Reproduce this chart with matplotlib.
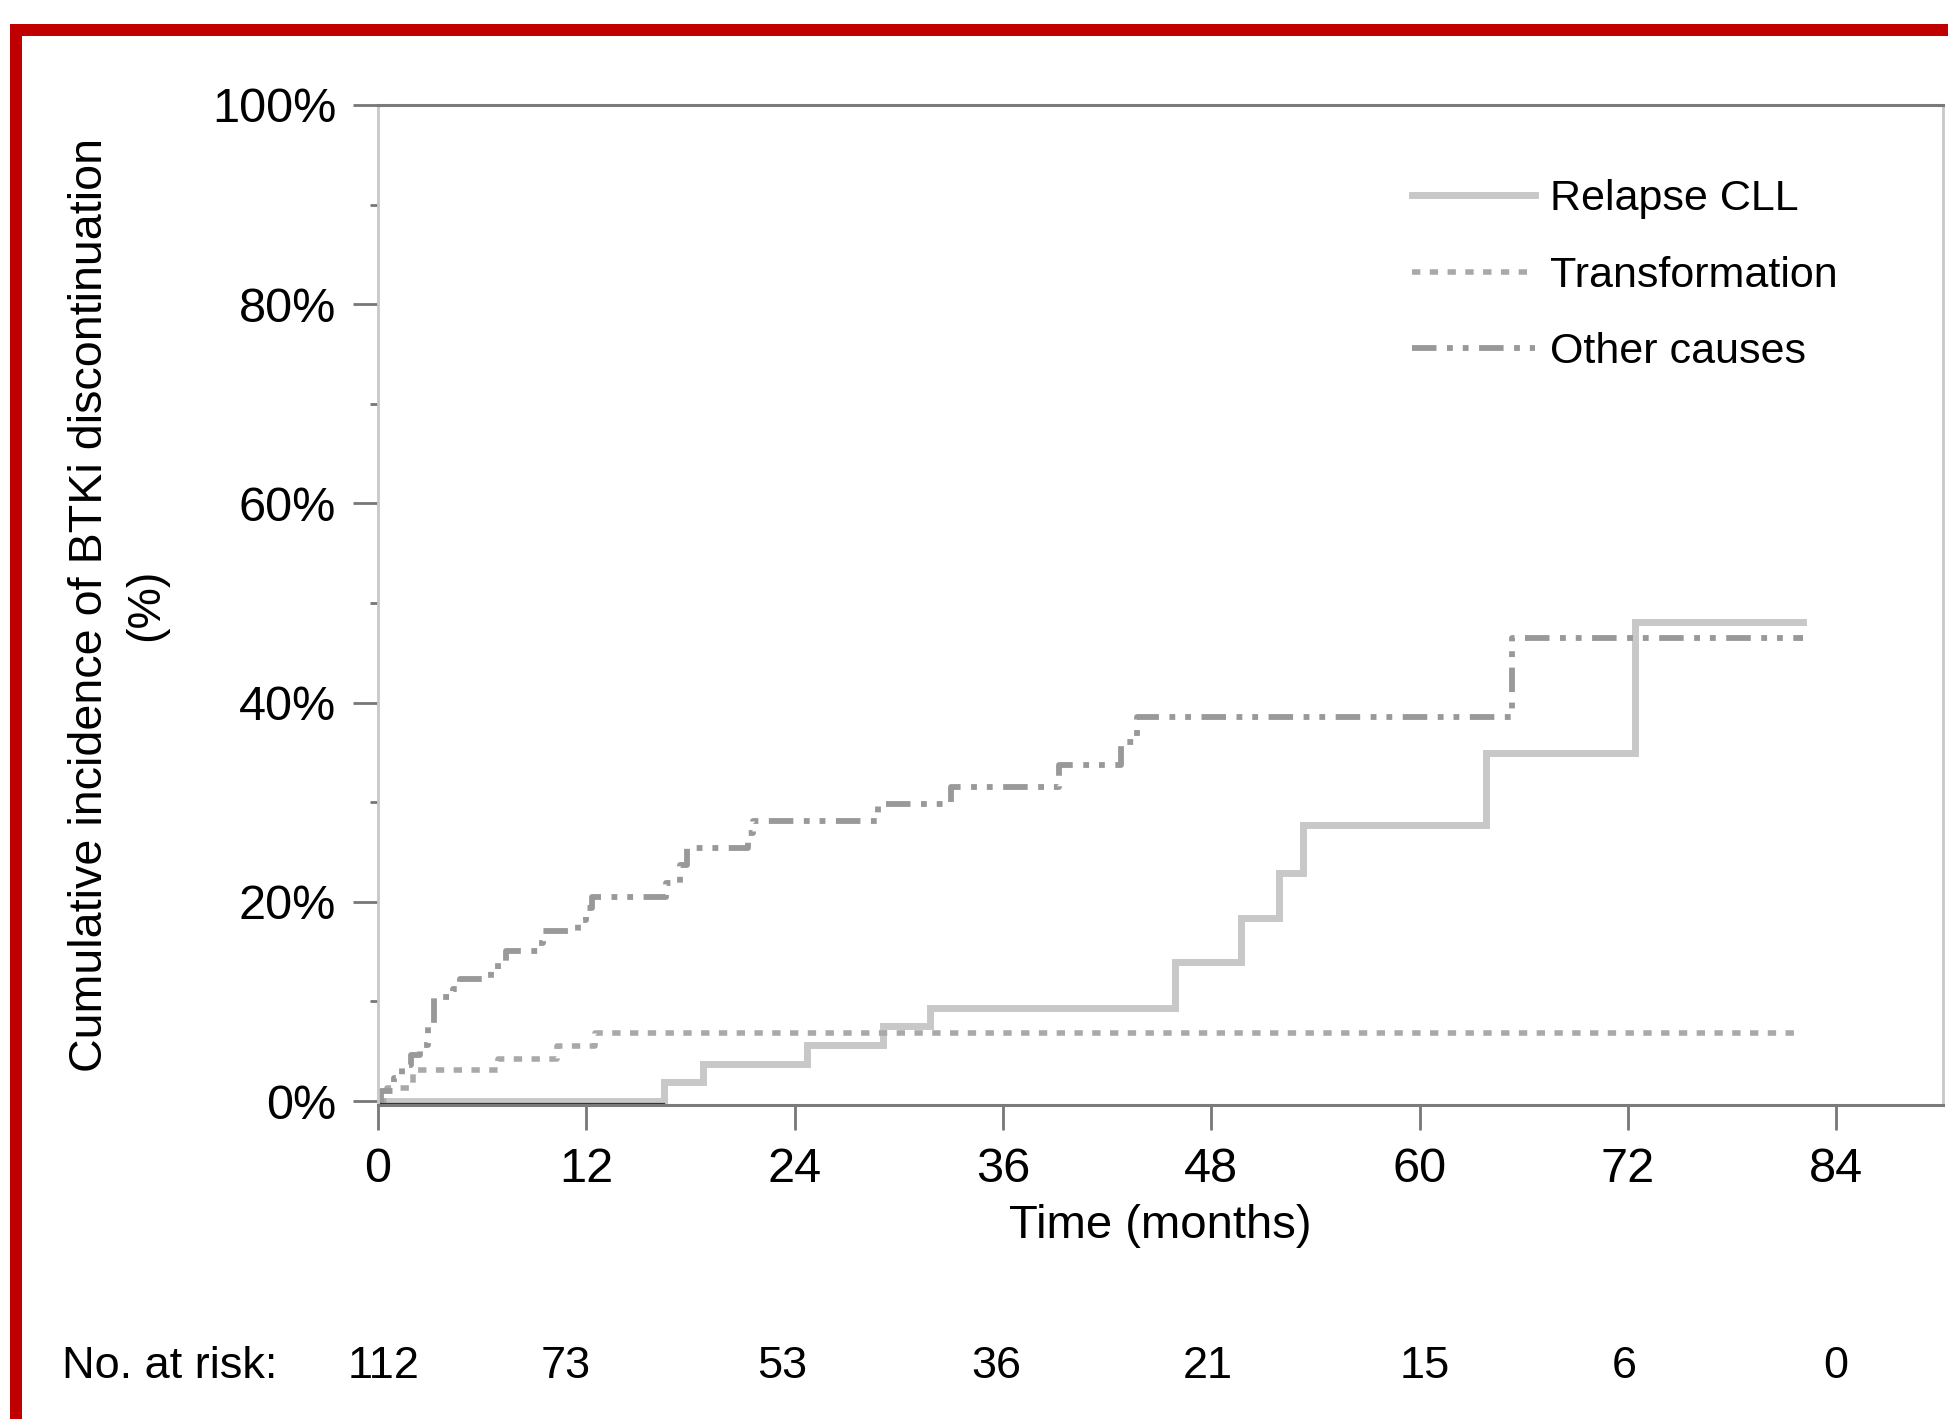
import numpy as np
import matplotlib.pyplot as plt
from matplotlib.patches import Rectangle

plt.rcParams['font.family'] = ['Liberation Sans', 'DejaVu Sans']

# ---- data (months, cumulative %) ----
relapse_t = [0, 16.5, 18.7, 24.7, 29.1, 31.8, 45.9, 49.7, 51.9, 53.3, 63.8, 72.4]
relapse_p = [0, 1.9, 3.7, 5.6, 7.5, 9.3, 14.0, 18.4, 22.9, 27.7, 34.9, 48.1]

transf_t = [0, 0.5, 2.0, 6.9, 10.3, 12.5]
transf_p = [0, 1.3, 3.1, 4.2, 5.5, 6.8]

other_t = [0, 0.2, 0.9, 1.4, 1.9, 2.4, 2.9, 3.2, 4.3, 4.7, 6.5, 6.9, 7.4, 9.2, 9.5,
           11.5, 12.0, 12.3, 16.6, 17.4, 17.8, 21.3, 21.6, 28.8, 33.0, 39.2, 42.8,
           43.7, 65.3]
other_p = [0, 1.0, 2.3, 3.6, 4.6, 5.6, 7.5, 10.4, 11.2, 12.3, 13.3, 14.1, 15.1, 15.9,
           17.1, 18.2, 19.4, 20.5, 21.9, 23.7, 25.4, 26.9, 28.1, 29.8, 31.5, 33.7,
           36.0, 38.6, 46.5]

t_end = 82.1

months = [0, 12, 24, 36, 48, 60, 72, 84]
at_risk = [112, 73, 53, 36, 21, 15, 6, 0]
yticks = [0, 20, 40, 60, 80, 100]

# where the at-risk numbers sit (months), as printed in the original
risk_label_x = [0.3, 10.8, 23.3, 35.6, 47.8, 60.3, 71.8, 84]

W, H = 1948, 1419
fig = plt.figure(figsize=(W / 100, H / 100), dpi=100)
ax = fig.add_axes([378 / W, 1 - 1105 / H, 1565 / W, 1000 / H])


def steps(t, p):
    return list(t) + [t_end], list(p) + [p[-1]]


x, y = steps(relapse_t, relapse_p)
ax.step(x, y, where='post', color='#c8c8c8', lw=5, label='Relapse CLL',
        solid_joinstyle='miter')
x, y = steps(transf_t, transf_p)
ax.step(x, y, where='post', color='#a9a9a9', lw=4.0, linestyle=(0, (1.5, 1.7)),
        label='Transformation', dash_capstyle='butt')
x, y = steps(other_t, other_p)
ax.step(x, y, where='post', color='#999999', lw=4.2,
        linestyle=(0, (4.2, 1.8, 1.0, 1.7, 1.0, 1.8)), label='Other causes',
        dash_capstyle='butt')
# dark baseline segment before the first relapse event
ax.plot([0, relapse_t[1]], [-0.3, -0.3], color='#333333', lw=1.6)

ax.set_xlim(0, 1565 / 17.36)
ax.set_ylim(-0.4, 100)

ax.set_xticks(months)
ax.set_yticks(yticks)
ax.set_yticklabels([f'{v}%' for v in yticks])
ax.set_yticks([10, 30, 50, 70, 90], minor=True)
ax.tick_params(axis='both', which='major', labelsize=35, length=18, width=2,
               color='#777777', pad=12)
ax.tick_params(axis='x', which='major', pad=12)
ax.tick_params(axis='y', which='minor', length=6, width=2, color='#777777')

for side in ['top', 'bottom']:
    ax.spines[side].set_color('#7a7a7a')
    ax.spines[side].set_linewidth(2.2)
for side in ['left', 'right']:
    ax.spines[side].set_color('#c8c8c8')
    ax.spines[side].set_linewidth(2)

ax.set_xlabel('Time (months)', fontsize=34, labelpad=9)
ax.set_ylabel('Cumulative incidence of BTKi discontinuation\n(%)', fontsize=33.6,
              linespacing=1.35)
ax.yaxis.set_label_coords(-0.134, 0.5)

ax.legend(loc='upper left', bbox_to_anchor=(1412 / W, 1 - 179 / H),
          bbox_transform=fig.transFigure, frameon=False, fontsize=31,
          handlelength=2.85, handletextpad=0.35, labelspacing=0.85,
          borderpad=0, borderaxespad=0)

# number at risk row
fig.text(62 / W, 1 - 1366 / H, 'No. at risk:', fontsize=32.5, va='center', ha='left')
for m, n in zip(risk_label_x, at_risk):
    ax.text(m, -0.261, str(n), transform=ax.get_xaxis_transform(), fontsize=32.5,
            va='center', ha='center')

# red frame of the screenshot
red = '#c00000'
fig.add_artist(Rectangle((10 / W, 1 - 36 / H), 1 - 10 / W, 12 / H,
                         transform=fig.transFigure, color=red, lw=0))
fig.add_artist(Rectangle((10 / W, 0), 12 / W, 1 - 24 / H,
                         transform=fig.transFigure, color=red, lw=0))

fig.savefig('out.png', dpi=100)
